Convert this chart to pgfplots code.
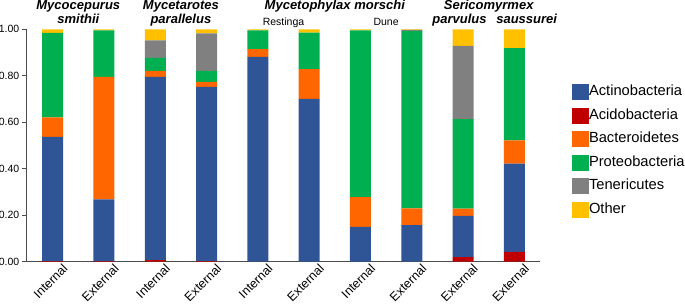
\documentclass[border=0pt]{standalone}
\usepackage{fontspec}
\setmainfont{Liberation Sans}
\usepackage{pgfplots}
\usepackage{pgfplotstable}
\pgfplotsset{compat=1.18}
\definecolor{cActino}{HTML}{2F5597}
\definecolor{cAcido}{HTML}{C00000}
\definecolor{cBact}{HTML}{FF6600}
\definecolor{cProteo}{HTML}{00B050}
\definecolor{cTen}{HTML}{808080}
\definecolor{cOther}{HTML}{FFC000}
\pgfplotsset{sqleg/.style={legend image code/.code={\fill[##1] (0bp,-4.5bp) rectangle (17bp,11.5bp);}}}
\pgfplotstableread{
x acido actino bact proteo ten other
0 0.002 0.535 0.084 0.364 0     0.015
1 0.002 0.266 0.527 0.200 0     0.005
2 0.006 0.789 0.026 0.056 0.075 0.048
3 0.002 0.750 0.022 0.047 0.161 0.018
4 0     0.881 0.034 0.080 0     0.005
5 0     0.700 0.129 0.157 0     0.014
6 0     0.149 0.128 0.718 0     0.005
7 0     0.157 0.072 0.764 0.004 0.003
8 0.019 0.177 0.032 0.385 0.316 0.071
9 0.041 0.381 0.100 0.397 0     0.081
}\datatable
\begin{document}
\begin{tikzpicture}
\path[use as bounding box] (-27bp,-43.5bp) rectangle (658bp,261.5bp);
\begin{axis}[
  at={(0,0)}, anchor=south west,
  scale only axis, width=513bp, height=232.2bp,
  xmin=-0.5, xmax=9.5, ymin=0, ymax=1,
  ybar stacked, bar width=21bp,
  axis x line*=bottom, axis y line*=left,
  axis line style={black!70, line width=1bp, -},
  xtick={0,1,2,3,4,5,6,7,8,9},
  xticklabels={Internal,External,Internal,External,Internal,External,Internal,External,External,External},
  x tick label style={rotate=45, anchor=north east, inner sep=0pt, xshift=8.5bp, yshift=-4.5bp, font=\fontsize{12.5bp}{14bp}\selectfont},
  x tick style={draw=none},
  ytick={0,0.2,0.4,0.6,0.8,1},
  y tick label style={font=\fontsize{10.5bp}{12bp}\selectfont, anchor=east, inner sep=0pt, xshift=-3bp, /pgf/number format/fixed, /pgf/number format/fixed zerofill, /pgf/number format/precision=2, /pgf/number format/assume math mode=true},
  tick align=outside, major tick length=4.5bp,
  y tick style={black!70, line width=1bp},
  clip=false,
  legend style={at={(1.0624,0.7636)}, anchor=north west, draw=none, fill=none,
    inner sep=0pt, outer sep=0pt, row sep=7.5bp,
    font=\fontsize{14.7bp}{16bp}\selectfont,
    nodes={inner sep=0pt, anchor=base west},
    /tikz/every even column/.append style={column sep=3bp}},
  legend cell align=left,
]
\addplot[fill=cAcido, draw=none, forget plot] table[x=x,y=acido]{\datatable};
\addplot[fill=cActino, draw=none, forget plot] table[x=x,y=actino]{\datatable};
\addplot[fill=cBact, draw=none, forget plot] table[x=x,y=bact]{\datatable};
\addplot[fill=cProteo, draw=none, forget plot] table[x=x,y=proteo]{\datatable};
\addplot[fill=cTen, draw=none, forget plot] table[x=x,y=ten]{\datatable};
\addplot[fill=cOther, draw=none, forget plot] table[x=x,y=other]{\datatable};
\addlegendimage{sqleg, fill=cActino, draw=none}\addlegendentry{Actinobacteria}
\addlegendimage{sqleg, fill=cAcido, draw=none}\addlegendentry{Acidobacteria}
\addlegendimage{sqleg, fill=cBact, draw=none}\addlegendentry{Bacteroidetes}
\addlegendimage{sqleg, fill=cProteo, draw=none}\addlegendentry{Proteobacteria}
\addlegendimage{sqleg, fill=cTen, draw=none}\addlegendentry{Tenericutes}
\addlegendimage{sqleg, fill=cOther, draw=none}\addlegendentry{Other}
\tikzset{ttl/.style={font=\fontsize{13bp}{15bp}\selectfont\bfseries\itshape, anchor=base, inner sep=0pt},
         sub/.style={font=\fontsize{10.5bp}{12bp}\selectfont, anchor=base, inner sep=0pt}}
\node[ttl] at (axis cs:0.5,1.087) {Mycocepurus};
\node[ttl] at (axis cs:0.5,1.026) {smithii};
\node[ttl] at (axis cs:2.5,1.087) {Mycetarotes};
\node[ttl] at (axis cs:2.5,1.026) {parallelus};
\node[ttl] at (axis cs:5.5,1.087) {Mycetophylax morschi};
\node[sub] at (axis cs:4.5,1.016) {Restinga};
\node[sub] at (axis cs:6.5,1.016) {Dune};
\node[ttl] at (axis cs:8.5,1.087) {Sericomyrmex};
\node[ttl] at (axis cs:7.93,1.026) {parvulus};
\node[ttl] at (axis cs:9.24,1.026) {saussurei};
\end{axis}
\end{tikzpicture}
\end{document}
